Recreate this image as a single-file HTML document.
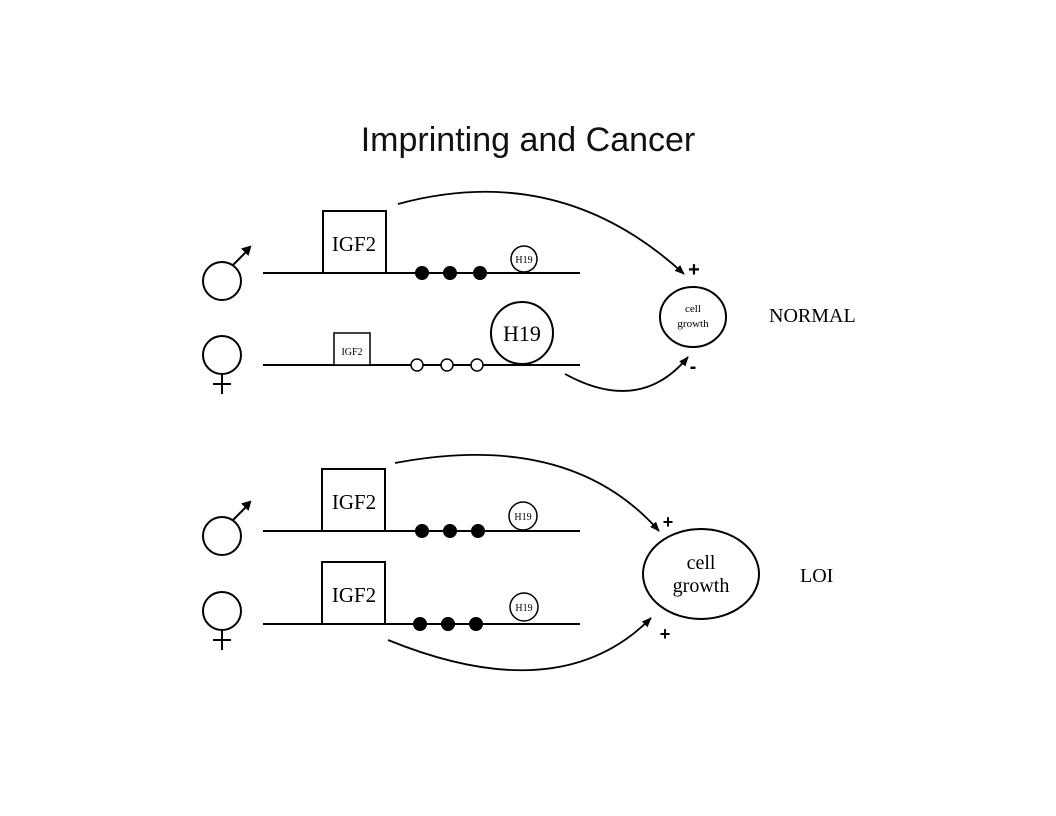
<!DOCTYPE html>
<html><head><meta charset="utf-8"><style>
body{margin:0;background:#fff;}
svg{display:block}
</style></head><body>
<svg width="1056" height="816" viewBox="0 0 1056 816" xmlns="http://www.w3.org/2000/svg">
<defs>
<marker id="ah" markerWidth="10" markerHeight="8" refX="9" refY="4" orient="auto" markerUnits="userSpaceOnUse">
<path d="M0,0 L10,4 L0,8 Z" fill="#000"/>
</marker>
</defs>
<text x="528" y="151" font-family="Liberation Sans, sans-serif" font-size="34" text-anchor="middle" fill="#111">Imprinting and Cancer</text>
<g stroke="#000" stroke-width="2" fill="none" font-family="Liberation Serif, serif">
<!-- NORMAL -->
<circle cx="222" cy="281" r="19"/>
<line x1="233" y1="265" x2="248" y2="250"/>
<path d="M243,249 L250,247 L248,254 Z" fill="#000"/>
<line x1="263" y1="273" x2="580" y2="273"/>
<rect x="323" y="211" width="63" height="62" fill="#fff"/>
<circle cx="422" cy="273" r="6" fill="#000"/>
<circle cx="450" cy="273" r="6" fill="#000"/>
<circle cx="480" cy="273" r="6" fill="#000"/>
<circle cx="524" cy="259" r="13" fill="#fff" stroke-width="1.5"/>

<circle cx="222" cy="355" r="19"/>
<line x1="222" y1="374" x2="222" y2="394"/>
<line x1="213" y1="384" x2="231" y2="384"/>
<line x1="263" y1="365" x2="580" y2="365"/>
<rect x="334" y="333" width="36" height="32" fill="#fff" stroke-width="1.5"/>
<circle cx="417" cy="365" r="6" fill="#fff" stroke-width="1.5"/>
<circle cx="447" cy="365" r="6" fill="#fff" stroke-width="1.5"/>
<circle cx="477" cy="365" r="6" fill="#fff" stroke-width="1.5"/>
<circle cx="522" cy="333" r="31" fill="#fff"/>

<path d="M398,204 Q560,160 684,274" marker-end="url(#ah)" stroke-width="1.8"/>
<path d="M565,374 Q640,415 688,357" marker-end="url(#ah)" stroke-width="1.8"/>
<ellipse cx="693" cy="317" rx="33" ry="30"/>

<!-- LOI -->
<circle cx="222" cy="536" r="19"/>
<line x1="233" y1="520" x2="248" y2="505"/>
<path d="M243,504 L250,502 L248,509 Z" fill="#000"/>
<line x1="263" y1="531" x2="580" y2="531"/>
<rect x="322" y="469" width="63" height="62" fill="#fff"/>
<circle cx="422" cy="531" r="6" fill="#000"/>
<circle cx="450" cy="531" r="6" fill="#000"/>
<circle cx="478" cy="531" r="6" fill="#000"/>
<circle cx="523" cy="516" r="14" fill="#fff" stroke-width="1.5"/>

<circle cx="222" cy="611" r="19"/>
<line x1="222" y1="630" x2="222" y2="650"/>
<line x1="213" y1="640" x2="231" y2="640"/>
<line x1="263" y1="624" x2="580" y2="624"/>
<rect x="322" y="562" width="63" height="62" fill="#fff"/>
<circle cx="420" cy="624" r="6" fill="#000"/>
<circle cx="448" cy="624" r="6" fill="#000"/>
<circle cx="476" cy="624" r="6" fill="#000"/>
<circle cx="524" cy="607" r="14" fill="#fff" stroke-width="1.5"/>

<path d="M395,463 Q570,430 659,531" marker-end="url(#ah)" stroke-width="1.8"/>
<path d="M388,640 Q560,710 651,618" marker-end="url(#ah)" stroke-width="1.8"/>
<ellipse cx="701" cy="574" rx="58" ry="45"/>
</g>
<g font-family="Liberation Serif, serif" fill="#000">
<text x="354" y="251" font-size="21" text-anchor="middle">IGF2</text>
<text x="524" y="263" font-size="10" text-anchor="middle">H19</text>
<text x="352" y="355" font-size="10" text-anchor="middle">IGF2</text>
<text x="522" y="341" font-size="22" text-anchor="middle">H19</text>
<text x="693" y="312" font-size="11" text-anchor="middle">cell</text>
<text x="693" y="327" font-size="11" text-anchor="middle">growth</text>
<text x="769" y="322" font-size="20">NORMAL</text>
<text x="354" y="509" font-size="21" text-anchor="middle">IGF2</text>
<text x="523" y="520" font-size="10" text-anchor="middle">H19</text>
<text x="354" y="602" font-size="21" text-anchor="middle">IGF2</text>
<text x="524" y="611" font-size="10" text-anchor="middle">H19</text>
<text x="701" y="569" font-size="20" text-anchor="middle">cell</text>
<text x="701" y="592" font-size="20" text-anchor="middle">growth</text>
<text x="800" y="582" font-size="20">LOI</text>
</g>
<g font-family="Liberation Sans, sans-serif" font-weight="bold" fill="#000" text-anchor="middle">
<text x="694" y="276" font-size="20">+</text>
<text x="693" y="373" font-size="20">-</text>
<text x="668" y="528" font-size="18">+</text>
<text x="665" y="640" font-size="18">+</text>
</g>
</svg>
</body></html>
